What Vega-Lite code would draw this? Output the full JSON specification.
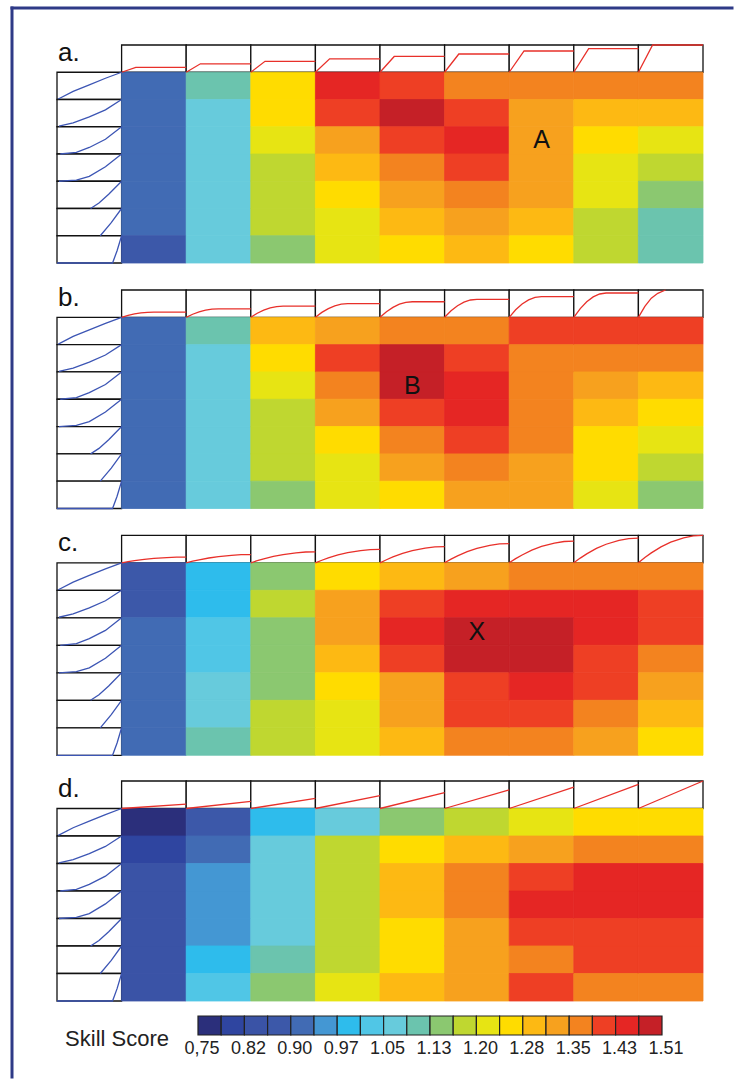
{
"$schema":"https://vega.github.io/schema/vega-lite/v6.json",
"width":735,"height":1080,
"autosize":{"type":"fit","contains":"padding"},
"padding":{"left":9,"top":5,"right":0,"bottom":0},
"background":"white",
"config":{"view":{"stroke":null},"font":"Liberation Sans"},
"datasets":{
"boxesTop":[{"c":"1","r":"T"},{"c":"2","r":"T"},{"c":"3","r":"T"},{"c":"4","r":"T"},{"c":"5","r":"T"},{"c":"6","r":"T"},{"c":"7","r":"T"},{"c":"8","r":"T"},{"c":"9","r":"T"}],
"boxesLeft":[{"c":"L","r":"1"},{"c":"L","r":"2"},{"c":"L","r":"3"},{"c":"L","r":"4"},{"c":"L","r":"5"},{"c":"L","r":"6"},{"c":"L","r":"7"}],
"heat":[
{"p":"a","c":"1","r":"1","val":0.921},{"p":"a","c":"1","r":"2","val":0.921},{"p":"a","c":"1","r":"3","val":0.921},{"p":"a","c":"1","r":"4","val":0.921},{"p":"a","c":"1","r":"5","val":0.921},{"p":"a","c":"1","r":"6","val":0.921},{"p":"a","c":"1","r":"7","val":0.883},
{"p":"a","c":"2","r":"1","val":1.111},{"p":"a","c":"2","r":"2","val":1.073},{"p":"a","c":"2","r":"3","val":1.073},{"p":"a","c":"2","r":"4","val":1.073},{"p":"a","c":"2","r":"5","val":1.073},{"p":"a","c":"2","r":"6","val":1.073},{"p":"a","c":"2","r":"7","val":1.073},
{"p":"a","c":"3","r":"1","val":1.263},{"p":"a","c":"3","r":"2","val":1.263},{"p":"a","c":"3","r":"3","val":1.225},{"p":"a","c":"3","r":"4","val":1.187},{"p":"a","c":"3","r":"5","val":1.187},{"p":"a","c":"3","r":"6","val":1.187},{"p":"a","c":"3","r":"7","val":1.149},
{"p":"a","c":"4","r":"1","val":1.453},{"p":"a","c":"4","r":"2","val":1.415},{"p":"a","c":"4","r":"3","val":1.339},{"p":"a","c":"4","r":"4","val":1.301},{"p":"a","c":"4","r":"5","val":1.263},{"p":"a","c":"4","r":"6","val":1.225},{"p":"a","c":"4","r":"7","val":1.225},
{"p":"a","c":"5","r":"1","val":1.415},{"p":"a","c":"5","r":"2","val":1.491},{"p":"a","c":"5","r":"3","val":1.415},{"p":"a","c":"5","r":"4","val":1.377},{"p":"a","c":"5","r":"5","val":1.339},{"p":"a","c":"5","r":"6","val":1.301},{"p":"a","c":"5","r":"7","val":1.263},
{"p":"a","c":"6","r":"1","val":1.377},{"p":"a","c":"6","r":"2","val":1.415},{"p":"a","c":"6","r":"3","val":1.453},{"p":"a","c":"6","r":"4","val":1.415},{"p":"a","c":"6","r":"5","val":1.377},{"p":"a","c":"6","r":"6","val":1.339},{"p":"a","c":"6","r":"7","val":1.301},
{"p":"a","c":"7","r":"1","val":1.377},{"p":"a","c":"7","r":"2","val":1.339},{"p":"a","c":"7","r":"3","val":1.339},{"p":"a","c":"7","r":"4","val":1.339},{"p":"a","c":"7","r":"5","val":1.339},{"p":"a","c":"7","r":"6","val":1.301},{"p":"a","c":"7","r":"7","val":1.263},
{"p":"a","c":"8","r":"1","val":1.377},{"p":"a","c":"8","r":"2","val":1.301},{"p":"a","c":"8","r":"3","val":1.263},{"p":"a","c":"8","r":"4","val":1.225},{"p":"a","c":"8","r":"5","val":1.225},{"p":"a","c":"8","r":"6","val":1.187},{"p":"a","c":"8","r":"7","val":1.187},
{"p":"a","c":"9","r":"1","val":1.377},{"p":"a","c":"9","r":"2","val":1.301},{"p":"a","c":"9","r":"3","val":1.225},{"p":"a","c":"9","r":"4","val":1.187},{"p":"a","c":"9","r":"5","val":1.149},{"p":"a","c":"9","r":"6","val":1.111},{"p":"a","c":"9","r":"7","val":1.111},
{"p":"b","c":"1","r":"1","val":0.921},{"p":"b","c":"1","r":"2","val":0.921},{"p":"b","c":"1","r":"3","val":0.921},{"p":"b","c":"1","r":"4","val":0.921},{"p":"b","c":"1","r":"5","val":0.921},{"p":"b","c":"1","r":"6","val":0.921},{"p":"b","c":"1","r":"7","val":0.921},
{"p":"b","c":"2","r":"1","val":1.111},{"p":"b","c":"2","r":"2","val":1.073},{"p":"b","c":"2","r":"3","val":1.073},{"p":"b","c":"2","r":"4","val":1.073},{"p":"b","c":"2","r":"5","val":1.073},{"p":"b","c":"2","r":"6","val":1.073},{"p":"b","c":"2","r":"7","val":1.073},
{"p":"b","c":"3","r":"1","val":1.301},{"p":"b","c":"3","r":"2","val":1.263},{"p":"b","c":"3","r":"3","val":1.225},{"p":"b","c":"3","r":"4","val":1.187},{"p":"b","c":"3","r":"5","val":1.187},{"p":"b","c":"3","r":"6","val":1.187},{"p":"b","c":"3","r":"7","val":1.149},
{"p":"b","c":"4","r":"1","val":1.339},{"p":"b","c":"4","r":"2","val":1.415},{"p":"b","c":"4","r":"3","val":1.377},{"p":"b","c":"4","r":"4","val":1.339},{"p":"b","c":"4","r":"5","val":1.263},{"p":"b","c":"4","r":"6","val":1.225},{"p":"b","c":"4","r":"7","val":1.225},
{"p":"b","c":"5","r":"1","val":1.377},{"p":"b","c":"5","r":"2","val":1.491},{"p":"b","c":"5","r":"3","val":1.491},{"p":"b","c":"5","r":"4","val":1.415},{"p":"b","c":"5","r":"5","val":1.377},{"p":"b","c":"5","r":"6","val":1.339},{"p":"b","c":"5","r":"7","val":1.263},
{"p":"b","c":"6","r":"1","val":1.377},{"p":"b","c":"6","r":"2","val":1.415},{"p":"b","c":"6","r":"3","val":1.453},{"p":"b","c":"6","r":"4","val":1.453},{"p":"b","c":"6","r":"5","val":1.415},{"p":"b","c":"6","r":"6","val":1.377},{"p":"b","c":"6","r":"7","val":1.339},
{"p":"b","c":"7","r":"1","val":1.415},{"p":"b","c":"7","r":"2","val":1.377},{"p":"b","c":"7","r":"3","val":1.377},{"p":"b","c":"7","r":"4","val":1.377},{"p":"b","c":"7","r":"5","val":1.377},{"p":"b","c":"7","r":"6","val":1.339},{"p":"b","c":"7","r":"7","val":1.339},
{"p":"b","c":"8","r":"1","val":1.415},{"p":"b","c":"8","r":"2","val":1.377},{"p":"b","c":"8","r":"3","val":1.339},{"p":"b","c":"8","r":"4","val":1.301},{"p":"b","c":"8","r":"5","val":1.263},{"p":"b","c":"8","r":"6","val":1.263},{"p":"b","c":"8","r":"7","val":1.225},
{"p":"b","c":"9","r":"1","val":1.415},{"p":"b","c":"9","r":"2","val":1.377},{"p":"b","c":"9","r":"3","val":1.301},{"p":"b","c":"9","r":"4","val":1.263},{"p":"b","c":"9","r":"5","val":1.225},{"p":"b","c":"9","r":"6","val":1.187},{"p":"b","c":"9","r":"7","val":1.149},
{"p":"c","c":"1","r":"1","val":0.883},{"p":"c","c":"1","r":"2","val":0.883},{"p":"c","c":"1","r":"3","val":0.921},{"p":"c","c":"1","r":"4","val":0.921},{"p":"c","c":"1","r":"5","val":0.921},{"p":"c","c":"1","r":"6","val":0.921},{"p":"c","c":"1","r":"7","val":0.921},
{"p":"c","c":"2","r":"1","val":0.997},{"p":"c","c":"2","r":"2","val":0.997},{"p":"c","c":"2","r":"3","val":1.035},{"p":"c","c":"2","r":"4","val":1.035},{"p":"c","c":"2","r":"5","val":1.073},{"p":"c","c":"2","r":"6","val":1.073},{"p":"c","c":"2","r":"7","val":1.111},
{"p":"c","c":"3","r":"1","val":1.149},{"p":"c","c":"3","r":"2","val":1.187},{"p":"c","c":"3","r":"3","val":1.149},{"p":"c","c":"3","r":"4","val":1.149},{"p":"c","c":"3","r":"5","val":1.149},{"p":"c","c":"3","r":"6","val":1.187},{"p":"c","c":"3","r":"7","val":1.187},
{"p":"c","c":"4","r":"1","val":1.263},{"p":"c","c":"4","r":"2","val":1.339},{"p":"c","c":"4","r":"3","val":1.339},{"p":"c","c":"4","r":"4","val":1.301},{"p":"c","c":"4","r":"5","val":1.263},{"p":"c","c":"4","r":"6","val":1.225},{"p":"c","c":"4","r":"7","val":1.225},
{"p":"c","c":"5","r":"1","val":1.301},{"p":"c","c":"5","r":"2","val":1.415},{"p":"c","c":"5","r":"3","val":1.453},{"p":"c","c":"5","r":"4","val":1.415},{"p":"c","c":"5","r":"5","val":1.339},{"p":"c","c":"5","r":"6","val":1.339},{"p":"c","c":"5","r":"7","val":1.301},
{"p":"c","c":"6","r":"1","val":1.339},{"p":"c","c":"6","r":"2","val":1.453},{"p":"c","c":"6","r":"3","val":1.491},{"p":"c","c":"6","r":"4","val":1.491},{"p":"c","c":"6","r":"5","val":1.415},{"p":"c","c":"6","r":"6","val":1.415},{"p":"c","c":"6","r":"7","val":1.377},
{"p":"c","c":"7","r":"1","val":1.377},{"p":"c","c":"7","r":"2","val":1.453},{"p":"c","c":"7","r":"3","val":1.491},{"p":"c","c":"7","r":"4","val":1.491},{"p":"c","c":"7","r":"5","val":1.453},{"p":"c","c":"7","r":"6","val":1.415},{"p":"c","c":"7","r":"7","val":1.377},
{"p":"c","c":"8","r":"1","val":1.377},{"p":"c","c":"8","r":"2","val":1.453},{"p":"c","c":"8","r":"3","val":1.453},{"p":"c","c":"8","r":"4","val":1.415},{"p":"c","c":"8","r":"5","val":1.415},{"p":"c","c":"8","r":"6","val":1.377},{"p":"c","c":"8","r":"7","val":1.339},
{"p":"c","c":"9","r":"1","val":1.377},{"p":"c","c":"9","r":"2","val":1.415},{"p":"c","c":"9","r":"3","val":1.415},{"p":"c","c":"9","r":"4","val":1.377},{"p":"c","c":"9","r":"5","val":1.339},{"p":"c","c":"9","r":"6","val":1.301},{"p":"c","c":"9","r":"7","val":1.263},
{"p":"d","c":"1","r":"1","val":0.769},{"p":"d","c":"1","r":"2","val":0.807},{"p":"d","c":"1","r":"3","val":0.845},{"p":"d","c":"1","r":"4","val":0.845},{"p":"d","c":"1","r":"5","val":0.845},{"p":"d","c":"1","r":"6","val":0.845},{"p":"d","c":"1","r":"7","val":0.845},
{"p":"d","c":"2","r":"1","val":0.883},{"p":"d","c":"2","r":"2","val":0.921},{"p":"d","c":"2","r":"3","val":0.959},{"p":"d","c":"2","r":"4","val":0.959},{"p":"d","c":"2","r":"5","val":0.959},{"p":"d","c":"2","r":"6","val":0.997},{"p":"d","c":"2","r":"7","val":1.035},
{"p":"d","c":"3","r":"1","val":0.997},{"p":"d","c":"3","r":"2","val":1.073},{"p":"d","c":"3","r":"3","val":1.073},{"p":"d","c":"3","r":"4","val":1.073},{"p":"d","c":"3","r":"5","val":1.073},{"p":"d","c":"3","r":"6","val":1.111},{"p":"d","c":"3","r":"7","val":1.149},
{"p":"d","c":"4","r":"1","val":1.073},{"p":"d","c":"4","r":"2","val":1.187},{"p":"d","c":"4","r":"3","val":1.187},{"p":"d","c":"4","r":"4","val":1.187},{"p":"d","c":"4","r":"5","val":1.187},{"p":"d","c":"4","r":"6","val":1.187},{"p":"d","c":"4","r":"7","val":1.225},
{"p":"d","c":"5","r":"1","val":1.149},{"p":"d","c":"5","r":"2","val":1.263},{"p":"d","c":"5","r":"3","val":1.301},{"p":"d","c":"5","r":"4","val":1.301},{"p":"d","c":"5","r":"5","val":1.263},{"p":"d","c":"5","r":"6","val":1.263},{"p":"d","c":"5","r":"7","val":1.301},
{"p":"d","c":"6","r":"1","val":1.187},{"p":"d","c":"6","r":"2","val":1.301},{"p":"d","c":"6","r":"3","val":1.377},{"p":"d","c":"6","r":"4","val":1.377},{"p":"d","c":"6","r":"5","val":1.339},{"p":"d","c":"6","r":"6","val":1.339},{"p":"d","c":"6","r":"7","val":1.339},
{"p":"d","c":"7","r":"1","val":1.225},{"p":"d","c":"7","r":"2","val":1.339},{"p":"d","c":"7","r":"3","val":1.415},{"p":"d","c":"7","r":"4","val":1.453},{"p":"d","c":"7","r":"5","val":1.415},{"p":"d","c":"7","r":"6","val":1.377},{"p":"d","c":"7","r":"7","val":1.415},
{"p":"d","c":"8","r":"1","val":1.263},{"p":"d","c":"8","r":"2","val":1.377},{"p":"d","c":"8","r":"3","val":1.453},{"p":"d","c":"8","r":"4","val":1.453},{"p":"d","c":"8","r":"5","val":1.415},{"p":"d","c":"8","r":"6","val":1.415},{"p":"d","c":"8","r":"7","val":1.377},
{"p":"d","c":"9","r":"1","val":1.263},{"p":"d","c":"9","r":"2","val":1.377},{"p":"d","c":"9","r":"3","val":1.453},{"p":"d","c":"9","r":"4","val":1.453},{"p":"d","c":"9","r":"5","val":1.415},{"p":"d","c":"9","r":"6","val":1.415},{"p":"d","c":"9","r":"7","val":1.377}
],
"topCurves":[
{"p":"a","c":"1","r":"T","t":0,"v":0},{"p":"a","c":"1","r":"T","t":0.22,"v":0.18},{"p":"a","c":"1","r":"T","t":1,"v":0.18},
{"p":"a","c":"2","r":"T","t":0,"v":0},{"p":"a","c":"2","r":"T","t":0.22,"v":0.31},{"p":"a","c":"2","r":"T","t":1,"v":0.31},
{"p":"a","c":"3","r":"T","t":0,"v":0},{"p":"a","c":"3","r":"T","t":0.22,"v":0.4},{"p":"a","c":"3","r":"T","t":1,"v":0.4},
{"p":"a","c":"4","r":"T","t":0,"v":0},{"p":"a","c":"4","r":"T","t":0.22,"v":0.49},{"p":"a","c":"4","r":"T","t":1,"v":0.49},
{"p":"a","c":"5","r":"T","t":0,"v":0},{"p":"a","c":"5","r":"T","t":0.22,"v":0.58},{"p":"a","c":"5","r":"T","t":1,"v":0.58},
{"p":"a","c":"6","r":"T","t":0,"v":0},{"p":"a","c":"6","r":"T","t":0.22,"v":0.67},{"p":"a","c":"6","r":"T","t":1,"v":0.67},
{"p":"a","c":"7","r":"T","t":0,"v":0},{"p":"a","c":"7","r":"T","t":0.23,"v":0.78},{"p":"a","c":"7","r":"T","t":1,"v":0.78},
{"p":"a","c":"8","r":"T","t":0,"v":0},{"p":"a","c":"8","r":"T","t":0.23,"v":0.87},{"p":"a","c":"8","r":"T","t":1,"v":0.87},
{"p":"a","c":"9","r":"T","t":0,"v":0},{"p":"a","c":"9","r":"T","t":0.22,"v":1},{"p":"a","c":"9","r":"T","t":1,"v":1},
{"p":"b","c":"1","r":"T","t":0,"v":0},{"p":"b","c":"1","r":"T","t":0.1,"v":0.068},{"p":"b","c":"1","r":"T","t":0.2,"v":0.122},{"p":"b","c":"1","r":"T","t":0.3,"v":0.16},{"p":"b","c":"1","r":"T","t":0.4,"v":0.182},{"p":"b","c":"1","r":"T","t":0.5,"v":0.19},{"p":"b","c":"1","r":"T","t":1,"v":0.19},
{"p":"b","c":"2","r":"T","t":0,"v":0},{"p":"b","c":"2","r":"T","t":0.1,"v":0.112},{"p":"b","c":"2","r":"T","t":0.2,"v":0.198},{"p":"b","c":"2","r":"T","t":0.3,"v":0.26},{"p":"b","c":"2","r":"T","t":0.4,"v":0.298},{"p":"b","c":"2","r":"T","t":0.5,"v":0.31},{"p":"b","c":"2","r":"T","t":1,"v":0.31},
{"p":"b","c":"3","r":"T","t":0,"v":0},{"p":"b","c":"3","r":"T","t":0.1,"v":0.148},{"p":"b","c":"3","r":"T","t":0.2,"v":0.262},{"p":"b","c":"3","r":"T","t":0.3,"v":0.344},{"p":"b","c":"3","r":"T","t":0.4,"v":0.394},{"p":"b","c":"3","r":"T","t":0.5,"v":0.41},{"p":"b","c":"3","r":"T","t":1,"v":0.41},
{"p":"b","c":"4","r":"T","t":0,"v":0},{"p":"b","c":"4","r":"T","t":0.1,"v":0.18},{"p":"b","c":"4","r":"T","t":0.2,"v":0.32},{"p":"b","c":"4","r":"T","t":0.3,"v":0.42},{"p":"b","c":"4","r":"T","t":0.4,"v":0.48},{"p":"b","c":"4","r":"T","t":0.5,"v":0.5},{"p":"b","c":"4","r":"T","t":1,"v":0.5},
{"p":"b","c":"5","r":"T","t":0,"v":0},{"p":"b","c":"5","r":"T","t":0.1,"v":0.205},{"p":"b","c":"5","r":"T","t":0.2,"v":0.365},{"p":"b","c":"5","r":"T","t":0.3,"v":0.479},{"p":"b","c":"5","r":"T","t":0.4,"v":0.547},{"p":"b","c":"5","r":"T","t":0.5,"v":0.57},{"p":"b","c":"5","r":"T","t":1,"v":0.57},
{"p":"b","c":"6","r":"T","t":0,"v":0},{"p":"b","c":"6","r":"T","t":0.1,"v":0.238},{"p":"b","c":"6","r":"T","t":0.2,"v":0.422},{"p":"b","c":"6","r":"T","t":0.3,"v":0.554},{"p":"b","c":"6","r":"T","t":0.4,"v":0.634},{"p":"b","c":"6","r":"T","t":0.5,"v":0.66},{"p":"b","c":"6","r":"T","t":1,"v":0.66},
{"p":"b","c":"7","r":"T","t":0,"v":0},{"p":"b","c":"7","r":"T","t":0.1,"v":0.274},{"p":"b","c":"7","r":"T","t":0.2,"v":0.486},{"p":"b","c":"7","r":"T","t":0.3,"v":0.638},{"p":"b","c":"7","r":"T","t":0.4,"v":0.73},{"p":"b","c":"7","r":"T","t":0.5,"v":0.76},{"p":"b","c":"7","r":"T","t":1,"v":0.76},
{"p":"b","c":"8","r":"T","t":0,"v":0},{"p":"b","c":"8","r":"T","t":0.1,"v":0.32},{"p":"b","c":"8","r":"T","t":0.2,"v":0.57},{"p":"b","c":"8","r":"T","t":0.3,"v":0.748},{"p":"b","c":"8","r":"T","t":0.4,"v":0.854},{"p":"b","c":"8","r":"T","t":0.5,"v":0.89},{"p":"b","c":"8","r":"T","t":1,"v":0.89},
{"p":"b","c":"9","r":"T","t":0,"v":0},{"p":"b","c":"9","r":"T","t":0.1,"v":0.4},{"p":"b","c":"9","r":"T","t":0.2,"v":0.7},{"p":"b","c":"9","r":"T","t":0.3,"v":0.88},{"p":"b","c":"9","r":"T","t":0.42,"v":1},
{"p":"c","c":"1","r":"T","t":0,"v":0},{"p":"c","c":"1","r":"T","t":0.1,"v":0.04},{"p":"c","c":"1","r":"T","t":0.2,"v":0.076},{"p":"c","c":"1","r":"T","t":0.35,"v":0.122},{"p":"c","c":"1","r":"T","t":0.5,"v":0.158},{"p":"c","c":"1","r":"T","t":0.7,"v":0.191},{"p":"c","c":"1","r":"T","t":0.85,"v":0.206},{"p":"c","c":"1","r":"T","t":1,"v":0.21},
{"p":"c","c":"2","r":"T","t":0,"v":0},{"p":"c","c":"2","r":"T","t":0.1,"v":0.057},{"p":"c","c":"2","r":"T","t":0.2,"v":0.108},{"p":"c","c":"2","r":"T","t":0.35,"v":0.174},{"p":"c","c":"2","r":"T","t":0.5,"v":0.225},{"p":"c","c":"2","r":"T","t":0.7,"v":0.273},{"p":"c","c":"2","r":"T","t":0.85,"v":0.294},{"p":"c","c":"2","r":"T","t":1,"v":0.3},
{"p":"c","c":"3","r":"T","t":0,"v":0},{"p":"c","c":"3","r":"T","t":0.1,"v":0.076},{"p":"c","c":"3","r":"T","t":0.2,"v":0.144},{"p":"c","c":"3","r":"T","t":0.35,"v":0.232},{"p":"c","c":"3","r":"T","t":0.5,"v":0.3},{"p":"c","c":"3","r":"T","t":0.7,"v":0.364},{"p":"c","c":"3","r":"T","t":0.85,"v":0.392},{"p":"c","c":"3","r":"T","t":1,"v":0.4},
{"p":"c","c":"4","r":"T","t":0,"v":0},{"p":"c","c":"4","r":"T","t":0.1,"v":0.093},{"p":"c","c":"4","r":"T","t":0.2,"v":0.176},{"p":"c","c":"4","r":"T","t":0.35,"v":0.284},{"p":"c","c":"4","r":"T","t":0.5,"v":0.368},{"p":"c","c":"4","r":"T","t":0.7,"v":0.446},{"p":"c","c":"4","r":"T","t":0.85,"v":0.48},{"p":"c","c":"4","r":"T","t":1,"v":0.49},
{"p":"c","c":"5","r":"T","t":0,"v":0},{"p":"c","c":"5","r":"T","t":0.1,"v":0.112},{"p":"c","c":"5","r":"T","t":0.2,"v":0.212},{"p":"c","c":"5","r":"T","t":0.35,"v":0.342},{"p":"c","c":"5","r":"T","t":0.5,"v":0.443},{"p":"c","c":"5","r":"T","t":0.7,"v":0.537},{"p":"c","c":"5","r":"T","t":0.85,"v":0.578},{"p":"c","c":"5","r":"T","t":1,"v":0.59},
{"p":"c","c":"6","r":"T","t":0,"v":0},{"p":"c","c":"6","r":"T","t":0.1,"v":0.133},{"p":"c","c":"6","r":"T","t":0.2,"v":0.252},{"p":"c","c":"6","r":"T","t":0.35,"v":0.406},{"p":"c","c":"6","r":"T","t":0.5,"v":0.525},{"p":"c","c":"6","r":"T","t":0.7,"v":0.637},{"p":"c","c":"6","r":"T","t":0.85,"v":0.686},{"p":"c","c":"6","r":"T","t":1,"v":0.7},
{"p":"c","c":"7","r":"T","t":0,"v":0},{"p":"c","c":"7","r":"T","t":0.1,"v":0.15},{"p":"c","c":"7","r":"T","t":0.2,"v":0.284},{"p":"c","c":"7","r":"T","t":0.35,"v":0.458},{"p":"c","c":"7","r":"T","t":0.5,"v":0.593},{"p":"c","c":"7","r":"T","t":0.7,"v":0.719},{"p":"c","c":"7","r":"T","t":0.85,"v":0.774},{"p":"c","c":"7","r":"T","t":1,"v":0.79},
{"p":"c","c":"8","r":"T","t":0,"v":0},{"p":"c","c":"8","r":"T","t":0.1,"v":0.171},{"p":"c","c":"8","r":"T","t":0.2,"v":0.324},{"p":"c","c":"8","r":"T","t":0.35,"v":0.522},{"p":"c","c":"8","r":"T","t":0.5,"v":0.675},{"p":"c","c":"8","r":"T","t":0.7,"v":0.819},{"p":"c","c":"8","r":"T","t":0.85,"v":0.882},{"p":"c","c":"8","r":"T","t":1,"v":0.9},
{"p":"c","c":"9","r":"T","t":0,"v":0},{"p":"c","c":"9","r":"T","t":0.1,"v":0.19},{"p":"c","c":"9","r":"T","t":0.2,"v":0.36},{"p":"c","c":"9","r":"T","t":0.35,"v":0.58},{"p":"c","c":"9","r":"T","t":0.5,"v":0.75},{"p":"c","c":"9","r":"T","t":0.7,"v":0.91},{"p":"c","c":"9","r":"T","t":0.85,"v":0.98},{"p":"c","c":"9","r":"T","t":1,"v":1},
{"p":"d","c":"1","r":"T","t":0,"v":0},{"p":"d","c":"1","r":"T","t":1,"v":0.16},
{"p":"d","c":"2","r":"T","t":0,"v":0},{"p":"d","c":"2","r":"T","t":1,"v":0.26},
{"p":"d","c":"3","r":"T","t":0,"v":0},{"p":"d","c":"3","r":"T","t":1,"v":0.37},
{"p":"d","c":"4","r":"T","t":0,"v":0},{"p":"d","c":"4","r":"T","t":1,"v":0.47},
{"p":"d","c":"5","r":"T","t":0,"v":0},{"p":"d","c":"5","r":"T","t":1,"v":0.58},
{"p":"d","c":"6","r":"T","t":0,"v":0},{"p":"d","c":"6","r":"T","t":1,"v":0.68},
{"p":"d","c":"7","r":"T","t":0,"v":0},{"p":"d","c":"7","r":"T","t":1,"v":0.78},
{"p":"d","c":"8","r":"T","t":0,"v":0},{"p":"d","c":"8","r":"T","t":1,"v":0.88},
{"p":"d","c":"9","r":"T","t":0,"v":0},{"p":"d","c":"9","r":"T","t":1,"v":1}
],
"leftCurves":[
{"c":"L","r":"1","t":0.02,"v":0.02},{"c":"L","r":"1","t":0.25,"v":0.3},{"c":"L","r":"1","t":0.5,"v":0.54},{"c":"L","r":"1","t":0.75,"v":0.78},{"c":"L","r":"1","t":1,"v":1},
{"c":"L","r":"2","t":0.03,"v":0.02},{"c":"L","r":"2","t":0.25,"v":0.14},{"c":"L","r":"2","t":0.5,"v":0.36},{"c":"L","r":"2","t":0.75,"v":0.62},{"c":"L","r":"2","t":1,"v":1},
{"c":"L","r":"3","t":0.05,"v":0},{"c":"L","r":"3","t":0.3,"v":0.06},{"c":"L","r":"3","t":0.5,"v":0.24},{"c":"L","r":"3","t":0.75,"v":0.54},{"c":"L","r":"3","t":1,"v":1},
{"c":"L","r":"4","t":0.03,"v":0},{"c":"L","r":"4","t":0.3,"v":0.04},{"c":"L","r":"4","t":0.5,"v":0.18},{"c":"L","r":"4","t":0.75,"v":0.53},{"c":"L","r":"4","t":1,"v":1},
{"c":"L","r":"5","t":0.52,"v":0},{"c":"L","r":"5","t":0.65,"v":0.2},{"c":"L","r":"5","t":0.8,"v":0.52},{"c":"L","r":"5","t":1,"v":1},
{"c":"L","r":"6","t":0.67,"v":0},{"c":"L","r":"6","t":0.84,"v":0.48},{"c":"L","r":"6","t":1,"v":1},
{"c":"L","r":"7","t":0,"v":0},{"c":"L","r":"7","t":0.86,"v":0},{"c":"L","r":"7","t":0.93,"v":0.45},{"c":"L","r":"7","t":1,"v":1}
],
"legendBins":[
{"lo":0.75,"hi":0.788,"val":0.769},{"lo":0.788,"hi":0.826,"val":0.807},{"lo":0.826,"hi":0.864,"val":0.845},{"lo":0.864,"hi":0.902,"val":0.883},{"lo":0.902,"hi":0.94,"val":0.921},
{"lo":0.94,"hi":0.978,"val":0.959},{"lo":0.978,"hi":1.016,"val":0.997},{"lo":1.016,"hi":1.054,"val":1.035},{"lo":1.054,"hi":1.092,"val":1.073},{"lo":1.092,"hi":1.13,"val":1.111},
{"lo":1.13,"hi":1.168,"val":1.149},{"lo":1.168,"hi":1.206,"val":1.187},{"lo":1.206,"hi":1.244,"val":1.225},{"lo":1.244,"hi":1.282,"val":1.263},{"lo":1.282,"hi":1.32,"val":1.301},
{"lo":1.32,"hi":1.358,"val":1.339},{"lo":1.358,"hi":1.396,"val":1.377},{"lo":1.396,"hi":1.434,"val":1.415},{"lo":1.434,"hi":1.472,"val":1.453},{"lo":1.472,"hi":1.51,"val":1.491}
],
"legendTicks":[
{"pos":0.75,"label":"0,75"},{"pos":0.826,"label":"0.82"},{"pos":0.902,"label":"0.90"},{"pos":0.978,"label":"0.97"},{"pos":1.054,"label":"1.05"},{"pos":1.13,"label":"1.13"},
{"pos":1.206,"label":"1.20"},{"pos":1.282,"label":"1.28"},{"pos":1.358,"label":"1.35"},{"pos":1.434,"label":"1.43"},{"pos":1.51,"label":"1.51"}
]
},
"layer":[
{
"data":{"values":[{}]},
"layer":[
{"mark":{"type":"rule","color":"#2e3a87","strokeWidth":3,"strokeCap":"square"},
 "encoding":{"x":{"datum":0,"type":"quantitative","axis":null,"scale":{"domain":[0,1],"nice":false,"zero":false}},
 "y":{"datum":0,"type":"quantitative","axis":null,"scale":{"domain":[0,1],"nice":false,"zero":false,"reverse":true}},"y2":{"datum":1}}},
{"mark":{"type":"rule","color":"#2e3a87","strokeWidth":3,"strokeCap":"square"},
 "encoding":{"x":{"datum":0,"type":"quantitative","axis":null,"scale":{"domain":[0,1],"nice":false,"zero":false}},"x2":{"datum":1},
 "y":{"datum":0,"type":"quantitative","axis":null,"scale":{"domain":[0,1],"nice":false,"zero":false,"reverse":true}}}}
]
},
{
"encoding":{
"x":{"field":"c","type":"ordinal","axis":null,"scale":{"type":"band","domain":["L","1","2","3","4","5","6","7","8","9"],"range":[45,691],"paddingInner":0,"paddingOuter":0}},
"y":{"field":"r","type":"ordinal","axis":null,"scale":{"type":"band","domain":["T","1","2","3","4","5","6","7"],"range":[37,255],"paddingInner":0,"paddingOuter":0}}
},
"layer":[
{"data":{"name":"boxesTop"},"mark":{"type":"rect","fill":"white","stroke":"#111111","strokeWidth":1.3}},
{"data":{"name":"boxesLeft"},"mark":{"type":"rect","fill":"white","stroke":"#111111","strokeWidth":1.3}},
{"data":{"name":"heat"},"transform":[{"filter":"datum.p === 'a'"}],"mark":{"type":"rect","strokeWidth":0.8},
 "encoding":{"fill":{"field":"val","type":"quantitative","legend":null,"scale":{"type":"quantize","nice":false,"domain":[0.75,1.51],"range":["#2b2f7b","#2f45a0","#3a53a6","#3c58a9","#416bb4","#4497d3","#2ebcec","#50c6e6","#67cbdc","#6bc4ae","#8bc870","#bfd730","#e7e413","#ffdc00","#fdb913","#f7a11e","#f3831f","#ee3f24","#e52624","#c52027"]}},
 "stroke":{"field":"val","type":"quantitative","legend":null,"scale":{"type":"quantize","nice":false,"domain":[0.75,1.51],"range":["#2b2f7b","#2f45a0","#3a53a6","#3c58a9","#416bb4","#4497d3","#2ebcec","#50c6e6","#67cbdc","#6bc4ae","#8bc870","#bfd730","#e7e413","#ffdc00","#fdb913","#f7a11e","#f3831f","#ee3f24","#e52624","#c52027"]}}}},
{"data":{"values":[{"c":"L","r":"T","label":"a."}]},"mark":{"type":"text","align":"left","baseline":"alphabetic","fontSize":26,"dx":1,"dy":2,"color":"#111111"},
 "encoding":{"x":{"field":"c","type":"ordinal","axis":null,"bandPosition":0,"scale":{"type":"band","domain":["L","1","2","3","4","5","6","7","8","9"],"range":[45,691],"paddingInner":0,"paddingOuter":0}},"text":{"field":"label"}}},
{"data":{"values":[{"c":"7","r":"3","label":"A"}]},"mark":{"type":"text","fontSize":25,"baseline":"middle","color":"#111111"},"encoding":{"text":{"field":"label"}}}
]
},
{
"encoding":{
"x":{"field":"c","type":"ordinal","axis":null,"scale":{"type":"band","domain":["L","1","2","3","4","5","6","7","8","9"],"range":[45,691],"paddingInner":0,"paddingOuter":0}},
"y":{"field":"r","type":"ordinal","axis":null,"scale":{"type":"band","domain":["T","1","2","3","4","5","6","7"],"range":[37,255],"paddingInner":0,"paddingOuter":0}}
},
"layer":[
{"data":{"name":"topCurves"},"transform":[{"filter":"datum.p === 'a'"}],"mark":{"type":"line","color":"#e8302a","strokeWidth":1.3},
 "encoding":{"xOffset":{"field":"t","type":"quantitative","scale":{"domain":[0,1],"nice":false,"zero":false}},"yOffset":{"field":"v","type":"quantitative","scale":{"domain":[0,1],"nice":false,"zero":false,"reverse":true}},"detail":{"field":"c"},"order":{"field":"t","type":"quantitative"}}},
{"data":{"name":"leftCurves"},"mark":{"type":"line","color":"#3c55b4","strokeWidth":1.3},
 "encoding":{"xOffset":{"field":"t","type":"quantitative","scale":{"domain":[0,1],"nice":false,"zero":false}},"yOffset":{"field":"v","type":"quantitative","scale":{"domain":[0,1],"nice":false,"zero":false,"reverse":true}},"detail":{"field":"r"},"order":{"field":"t","type":"quantitative"}}}
]
},
{
"encoding":{
"x":{"field":"c","type":"ordinal","axis":null,"scale":{"type":"band","domain":["L","1","2","3","4","5","6","7","8","9"],"range":[45,691],"paddingInner":0,"paddingOuter":0}},
"y":{"field":"r","type":"ordinal","axis":null,"scale":{"type":"band","domain":["T","1","2","3","4","5","6","7"],"range":[282,500.5],"paddingInner":0,"paddingOuter":0}}
},
"layer":[
{"data":{"name":"boxesTop"},"mark":{"type":"rect","fill":"white","stroke":"#111111","strokeWidth":1.3}},
{"data":{"name":"boxesLeft"},"mark":{"type":"rect","fill":"white","stroke":"#111111","strokeWidth":1.3}},
{"data":{"name":"heat"},"transform":[{"filter":"datum.p === 'b'"}],"mark":{"type":"rect","strokeWidth":0.8},
 "encoding":{"fill":{"field":"val","type":"quantitative","legend":null,"scale":{"type":"quantize","nice":false,"domain":[0.75,1.51],"range":["#2b2f7b","#2f45a0","#3a53a6","#3c58a9","#416bb4","#4497d3","#2ebcec","#50c6e6","#67cbdc","#6bc4ae","#8bc870","#bfd730","#e7e413","#ffdc00","#fdb913","#f7a11e","#f3831f","#ee3f24","#e52624","#c52027"]}},
 "stroke":{"field":"val","type":"quantitative","legend":null,"scale":{"type":"quantize","nice":false,"domain":[0.75,1.51],"range":["#2b2f7b","#2f45a0","#3a53a6","#3c58a9","#416bb4","#4497d3","#2ebcec","#50c6e6","#67cbdc","#6bc4ae","#8bc870","#bfd730","#e7e413","#ffdc00","#fdb913","#f7a11e","#f3831f","#ee3f24","#e52624","#c52027"]}}}},
{"data":{"values":[{"c":"L","r":"T","label":"b."}]},"mark":{"type":"text","align":"left","baseline":"alphabetic","fontSize":26,"dx":1,"dy":2,"color":"#111111"},
 "encoding":{"x":{"field":"c","type":"ordinal","axis":null,"bandPosition":0,"scale":{"type":"band","domain":["L","1","2","3","4","5","6","7","8","9"],"range":[45,691],"paddingInner":0,"paddingOuter":0}},"text":{"field":"label"}}},
{"data":{"values":[{"c":"5","r":"3","label":"B"}]},"mark":{"type":"text","fontSize":25,"baseline":"middle","color":"#111111"},"encoding":{"text":{"field":"label"}}}
]
},
{
"encoding":{
"x":{"field":"c","type":"ordinal","axis":null,"scale":{"type":"band","domain":["L","1","2","3","4","5","6","7","8","9"],"range":[45,691],"paddingInner":0,"paddingOuter":0}},
"y":{"field":"r","type":"ordinal","axis":null,"scale":{"type":"band","domain":["T","1","2","3","4","5","6","7"],"range":[282,500.5],"paddingInner":0,"paddingOuter":0}}
},
"layer":[
{"data":{"name":"topCurves"},"transform":[{"filter":"datum.p === 'b'"}],"mark":{"type":"line","color":"#e8302a","strokeWidth":1.3},
 "encoding":{"xOffset":{"field":"t","type":"quantitative","scale":{"domain":[0,1],"nice":false,"zero":false}},"yOffset":{"field":"v","type":"quantitative","scale":{"domain":[0,1],"nice":false,"zero":false,"reverse":true}},"detail":{"field":"c"},"order":{"field":"t","type":"quantitative"}}},
{"data":{"name":"leftCurves"},"mark":{"type":"line","color":"#3c55b4","strokeWidth":1.3},
 "encoding":{"xOffset":{"field":"t","type":"quantitative","scale":{"domain":[0,1],"nice":false,"zero":false}},"yOffset":{"field":"v","type":"quantitative","scale":{"domain":[0,1],"nice":false,"zero":false,"reverse":true}},"detail":{"field":"r"},"order":{"field":"t","type":"quantitative"}}}
]
},
{
"encoding":{
"x":{"field":"c","type":"ordinal","axis":null,"scale":{"type":"band","domain":["L","1","2","3","4","5","6","7","8","9"],"range":[45,691],"paddingInner":0,"paddingOuter":0}},
"y":{"field":"r","type":"ordinal","axis":null,"scale":{"type":"band","domain":["T","1","2","3","4","5","6","7"],"range":[527.3,747.3],"paddingInner":0,"paddingOuter":0}}
},
"layer":[
{"data":{"name":"boxesTop"},"mark":{"type":"rect","fill":"white","stroke":"#111111","strokeWidth":1.3}},
{"data":{"name":"boxesLeft"},"mark":{"type":"rect","fill":"white","stroke":"#111111","strokeWidth":1.3}},
{"data":{"name":"heat"},"transform":[{"filter":"datum.p === 'c'"}],"mark":{"type":"rect","strokeWidth":0.8},
 "encoding":{"fill":{"field":"val","type":"quantitative","legend":null,"scale":{"type":"quantize","nice":false,"domain":[0.75,1.51],"range":["#2b2f7b","#2f45a0","#3a53a6","#3c58a9","#416bb4","#4497d3","#2ebcec","#50c6e6","#67cbdc","#6bc4ae","#8bc870","#bfd730","#e7e413","#ffdc00","#fdb913","#f7a11e","#f3831f","#ee3f24","#e52624","#c52027"]}},
 "stroke":{"field":"val","type":"quantitative","legend":null,"scale":{"type":"quantize","nice":false,"domain":[0.75,1.51],"range":["#2b2f7b","#2f45a0","#3a53a6","#3c58a9","#416bb4","#4497d3","#2ebcec","#50c6e6","#67cbdc","#6bc4ae","#8bc870","#bfd730","#e7e413","#ffdc00","#fdb913","#f7a11e","#f3831f","#ee3f24","#e52624","#c52027"]}}}},
{"data":{"values":[{"c":"L","r":"T","label":"c."}]},"mark":{"type":"text","align":"left","baseline":"alphabetic","fontSize":26,"dx":1,"dy":2,"color":"#111111"},
 "encoding":{"x":{"field":"c","type":"ordinal","axis":null,"bandPosition":0,"scale":{"type":"band","domain":["L","1","2","3","4","5","6","7","8","9"],"range":[45,691],"paddingInner":0,"paddingOuter":0}},"text":{"field":"label"}}},
{"data":{"values":[{"c":"6","r":"3","label":"X"}]},"mark":{"type":"text","fontSize":25,"baseline":"middle","color":"#111111"},"encoding":{"text":{"field":"label"}}}
]
},
{
"encoding":{
"x":{"field":"c","type":"ordinal","axis":null,"scale":{"type":"band","domain":["L","1","2","3","4","5","6","7","8","9"],"range":[45,691],"paddingInner":0,"paddingOuter":0}},
"y":{"field":"r","type":"ordinal","axis":null,"scale":{"type":"band","domain":["T","1","2","3","4","5","6","7"],"range":[527.3,747.3],"paddingInner":0,"paddingOuter":0}}
},
"layer":[
{"data":{"name":"topCurves"},"transform":[{"filter":"datum.p === 'c'"}],"mark":{"type":"line","color":"#e8302a","strokeWidth":1.3},
 "encoding":{"xOffset":{"field":"t","type":"quantitative","scale":{"domain":[0,1],"nice":false,"zero":false}},"yOffset":{"field":"v","type":"quantitative","scale":{"domain":[0,1],"nice":false,"zero":false,"reverse":true}},"detail":{"field":"c"},"order":{"field":"t","type":"quantitative"}}},
{"data":{"name":"leftCurves"},"mark":{"type":"line","color":"#3c55b4","strokeWidth":1.3},
 "encoding":{"xOffset":{"field":"t","type":"quantitative","scale":{"domain":[0,1],"nice":false,"zero":false}},"yOffset":{"field":"v","type":"quantitative","scale":{"domain":[0,1],"nice":false,"zero":false,"reverse":true}},"detail":{"field":"r"},"order":{"field":"t","type":"quantitative"}}}
]
},
{
"encoding":{
"x":{"field":"c","type":"ordinal","axis":null,"scale":{"type":"band","domain":["L","1","2","3","4","5","6","7","8","9"],"range":[45,691],"paddingInner":0,"paddingOuter":0}},
"y":{"field":"r","type":"ordinal","axis":null,"scale":{"type":"band","domain":["T","1","2","3","4","5","6","7"],"range":[773,993],"paddingInner":0,"paddingOuter":0}}
},
"layer":[
{"data":{"name":"boxesTop"},"mark":{"type":"rect","fill":"white","stroke":"#111111","strokeWidth":1.3}},
{"data":{"name":"boxesLeft"},"mark":{"type":"rect","fill":"white","stroke":"#111111","strokeWidth":1.3}},
{"data":{"name":"heat"},"transform":[{"filter":"datum.p === 'd'"}],"mark":{"type":"rect","strokeWidth":0.8},
 "encoding":{"fill":{"field":"val","type":"quantitative","legend":null,"scale":{"type":"quantize","nice":false,"domain":[0.75,1.51],"range":["#2b2f7b","#2f45a0","#3a53a6","#3c58a9","#416bb4","#4497d3","#2ebcec","#50c6e6","#67cbdc","#6bc4ae","#8bc870","#bfd730","#e7e413","#ffdc00","#fdb913","#f7a11e","#f3831f","#ee3f24","#e52624","#c52027"]}},
 "stroke":{"field":"val","type":"quantitative","legend":null,"scale":{"type":"quantize","nice":false,"domain":[0.75,1.51],"range":["#2b2f7b","#2f45a0","#3a53a6","#3c58a9","#416bb4","#4497d3","#2ebcec","#50c6e6","#67cbdc","#6bc4ae","#8bc870","#bfd730","#e7e413","#ffdc00","#fdb913","#f7a11e","#f3831f","#ee3f24","#e52624","#c52027"]}}}},
{"data":{"values":[{"c":"L","r":"T","label":"d."}]},"mark":{"type":"text","align":"left","baseline":"alphabetic","fontSize":26,"dx":1,"dy":2,"color":"#111111"},
 "encoding":{"x":{"field":"c","type":"ordinal","axis":null,"bandPosition":0,"scale":{"type":"band","domain":["L","1","2","3","4","5","6","7","8","9"],"range":[45,691],"paddingInner":0,"paddingOuter":0}},"text":{"field":"label"}}}
]
},
{
"encoding":{
"x":{"field":"c","type":"ordinal","axis":null,"scale":{"type":"band","domain":["L","1","2","3","4","5","6","7","8","9"],"range":[45,691],"paddingInner":0,"paddingOuter":0}},
"y":{"field":"r","type":"ordinal","axis":null,"scale":{"type":"band","domain":["T","1","2","3","4","5","6","7"],"range":[773,993],"paddingInner":0,"paddingOuter":0}}
},
"layer":[
{"data":{"name":"topCurves"},"transform":[{"filter":"datum.p === 'd'"}],"mark":{"type":"line","color":"#e8302a","strokeWidth":1.3},
 "encoding":{"xOffset":{"field":"t","type":"quantitative","scale":{"domain":[0,1],"nice":false,"zero":false}},"yOffset":{"field":"v","type":"quantitative","scale":{"domain":[0,1],"nice":false,"zero":false,"reverse":true}},"detail":{"field":"c"},"order":{"field":"t","type":"quantitative"}}},
{"data":{"name":"leftCurves"},"mark":{"type":"line","color":"#3c55b4","strokeWidth":1.3},
 "encoding":{"xOffset":{"field":"t","type":"quantitative","scale":{"domain":[0,1],"nice":false,"zero":false}},"yOffset":{"field":"v","type":"quantitative","scale":{"domain":[0,1],"nice":false,"zero":false,"reverse":true}},"detail":{"field":"r"},"order":{"field":"t","type":"quantitative"}}}
]
},
{
"layer":[
{"data":{"name":"legendBins"},"mark":{"type":"rect","stroke":"#222222","strokeWidth":1.2},
 "encoding":{"x":{"field":"lo","type":"quantitative","axis":null,"scale":{"domain":[0.75,1.51],"range":[186,650],"nice":false,"zero":false}},"x2":{"field":"hi"},
 "y":{"datum":0,"type":"quantitative","axis":null,"scale":{"domain":[0,1],"range":[1008,1027],"nice":false,"zero":false}},"y2":{"datum":1},
 "fill":{"field":"val","type":"quantitative","legend":null,"scale":{"type":"quantize","nice":false,"domain":[0.75,1.51],"range":["#2b2f7b","#2f45a0","#3a53a6","#3c58a9","#416bb4","#4497d3","#2ebcec","#50c6e6","#67cbdc","#6bc4ae","#8bc870","#bfd730","#e7e413","#ffdc00","#fdb913","#f7a11e","#f3831f","#ee3f24","#e52624","#c52027"]}}}},
{"data":{"name":"legendTicks"},"mark":{"type":"text","fontSize":18,"dx":4,"baseline":"alphabetic","color":"#222222","font":"Liberation Sans Narrow, Liberation Sans, sans-serif"},
 "encoding":{"x":{"field":"pos","type":"quantitative","axis":null,"scale":{"domain":[0.75,1.51],"range":[186,650],"nice":false,"zero":false}},
 "y":{"datum":2,"type":"quantitative","axis":null,"scale":{"domain":[0,1],"range":[1008,1027],"nice":false,"zero":false}},"text":{"field":"label"}}},
{"data":{"values":[{"name":"Skill Score"}]},"mark":{"type":"text","fontSize":22,"align":"right","dx":-29,"dy":-8,"baseline":"alphabetic","color":"#222222","font":"Liberation Sans Narrow, Liberation Sans, sans-serif"},
 "encoding":{"x":{"datum":0.75,"type":"quantitative","axis":null,"scale":{"domain":[0.75,1.51],"range":[186,650],"nice":false,"zero":false}},
 "y":{"datum":2,"type":"quantitative","axis":null,"scale":{"domain":[0,1],"range":[1008,1027],"nice":false,"zero":false}},"text":{"field":"name"}}}
]
}
],
"resolve":{"scale":{"x":"independent","y":"independent","xOffset":"independent","yOffset":"independent","fill":"independent","stroke":"independent"}}
}
